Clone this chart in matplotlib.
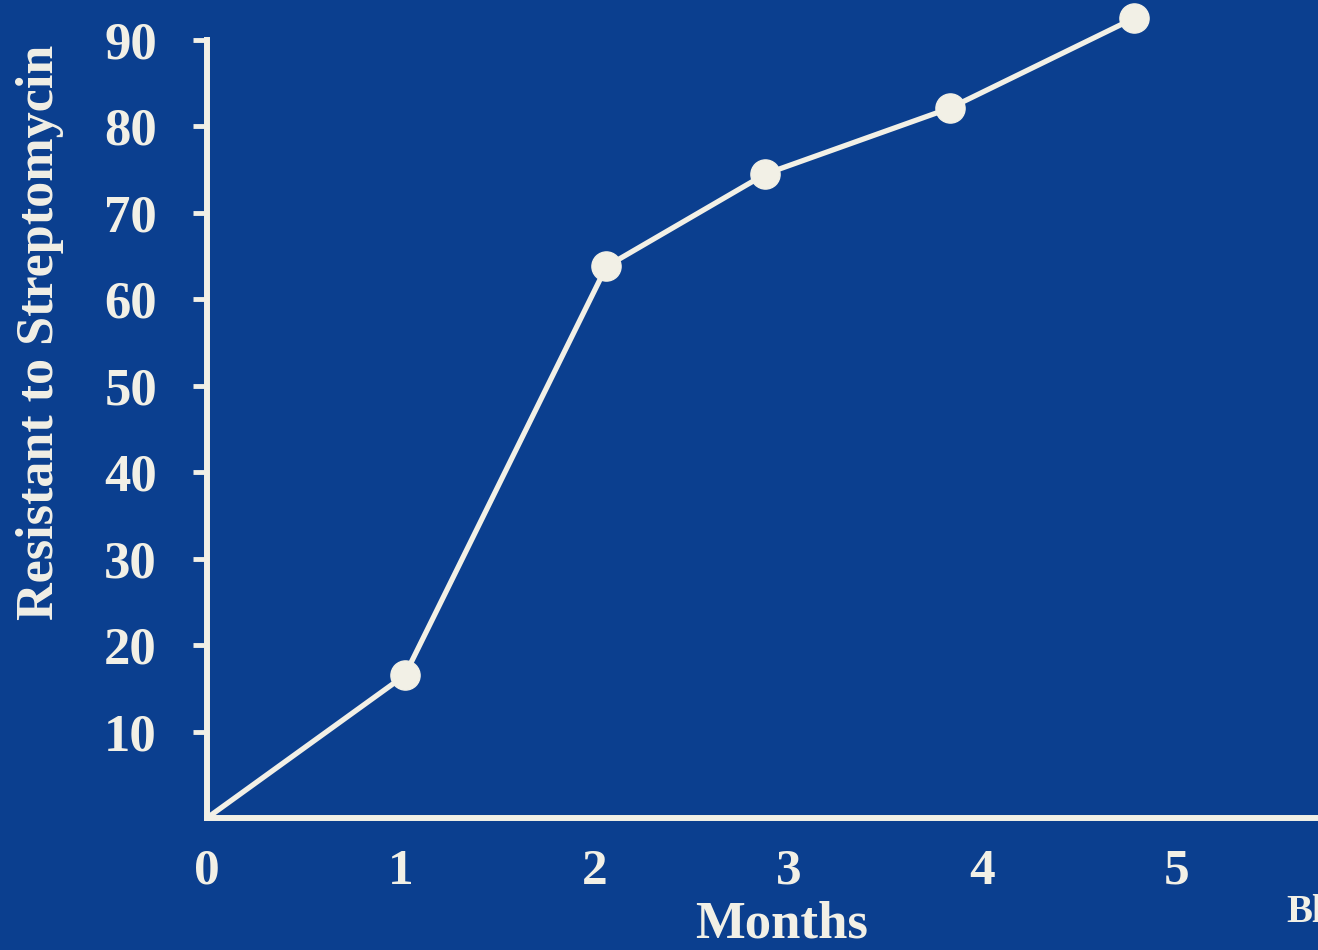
import matplotlib
matplotlib.use("Agg")
import matplotlib.pyplot as plt

months = [0.0, 1.02, 2.06, 2.88, 3.83, 4.78]
resistant = [0.0, 16.5, 63.8, 74.5, 82.1, 92.5]
xticks = [0, 1, 2, 3, 4, 5]
yticks = [10, 20, 30, 40, 50, 60, 70, 80, 90]

BG = "#0b3f8f"
FG = "#f2f0e6"
plt.rcParams["font.family"] = ["Liberation Serif", "DejaVu Serif"]
plt.rcParams["font.weight"] = "bold"

fig = plt.figure(figsize=(13.18, 9.5), dpi=100, facecolor=BG)
ax = fig.add_axes([207 / 1318, 1 - 818 / 950, 1 - 207 / 1318, (818 - 40) / 950])
ax.set_facecolor(BG)

ax.plot(months, resistant, color=FG, lw=3.8, marker="o", markersize=21,
        markevery=list(range(1, len(months))),
        markerfacecolor=FG, markeredgecolor=FG, clip_on=False, zorder=3,
        solid_capstyle="round")

ax.set_xlim(0, 5.73)
ax.set_ylim(0, 90)
ax.set_xticks(xticks)
ax.set_yticks(yticks)
ax.set_xticklabels([str(t) for t in xticks])
ax.set_yticklabels([str(t) for t in yticks])

for s in ["top", "right"]:
    ax.spines[s].set_visible(False)
for s in ["left", "bottom"]:
    ax.spines[s].set_color(FG)
    ax.spines[s].set_linewidth(4.3)
    ax.spines[s].set_capstyle("projecting")

ax.tick_params(axis="y", colors=FG, length=10, width=3.5, pad=26,
               labelsize=38)
ax.tick_params(axis="x", colors=FG, length=0, pad=22, labelsize=37)
for lab in ax.get_xticklabels() + ax.get_yticklabels():
    lab.set_fontweight("bold")

fig.text(40 / 1318, 1 - 332 / 950, "Resistant to Streptomycin", rotation=90,
         color=FG, fontsize=37.5, fontweight="bold", ha="center", va="center")
fig.text(782 / 1318, 1 - 924 / 950, "Months", color=FG, fontsize=38,
         fontweight="bold", ha="center", va="center")
fig.text(1286 / 1318, 1 - 912 / 950, "Bl", color=FG, fontsize=28,
         fontweight="bold", ha="left", va="center")

fig.savefig("out.png", dpi=100, facecolor=BG)
